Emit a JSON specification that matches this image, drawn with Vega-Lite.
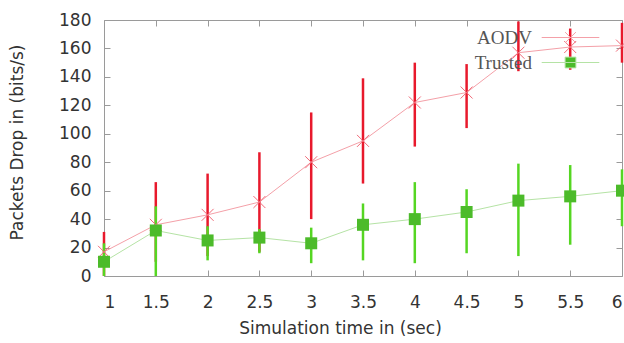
{
  "$schema": "https://vega.github.io/schema/vega-lite/v6.json",
  "width": 518,
  "height": 256,
  "autosize": "none",
  "padding": {"left": 104, "top": 20, "right": 2, "bottom": 67},
  "background": "white",
  "config": {
    "view": {"stroke": "#9a9a9a", "strokeWidth": 1},
    "axis": {
      "grid": false,
      "domain": false,
      "tickSize": -6,
      "tickColor": "#9a9a9a",
      "labelFont": "DejaVu Sans",
      "labelFontSize": 17,
      "labelColor": "#333333",
      "titleFont": "DejaVu Sans",
      "titleFontSize": 17,
      "titleFontWeight": "normal",
      "titleColor": "#333333"
    }
  },
  "data": {
    "values": [
      {"series": "AODV", "t": 1, "y": 17, "lo": 0, "hi": 31},
      {"series": "AODV", "t": 1.5, "y": 36, "lo": 10, "hi": 66},
      {"series": "AODV", "t": 2, "y": 43, "lo": 14, "hi": 72},
      {"series": "AODV", "t": 2.5, "y": 52, "lo": 17, "hi": 87},
      {"series": "AODV", "t": 3, "y": 80, "lo": 40, "hi": 115},
      {"series": "AODV", "t": 3.5, "y": 95, "lo": 65, "hi": 139},
      {"series": "AODV", "t": 4, "y": 122, "lo": 91, "hi": 150},
      {"series": "AODV", "t": 4.5, "y": 129, "lo": 104, "hi": 149},
      {"series": "AODV", "t": 5, "y": 157, "lo": 144, "hi": 179},
      {"series": "AODV", "t": 5.5, "y": 161, "lo": 145, "hi": 174},
      {"series": "AODV", "t": 6, "y": 162, "lo": 150, "hi": 178},
      {"series": "Trusted", "t": 1, "y": 10, "lo": 0, "hi": 23},
      {"series": "Trusted", "t": 1.5, "y": 32, "lo": 0, "hi": 49},
      {"series": "Trusted", "t": 2, "y": 25, "lo": 11, "hi": 35},
      {"series": "Trusted", "t": 2.5, "y": 27, "lo": 16, "hi": 33},
      {"series": "Trusted", "t": 3, "y": 23, "lo": 9, "hi": 34},
      {"series": "Trusted", "t": 3.5, "y": 36, "lo": 11, "hi": 51},
      {"series": "Trusted", "t": 4, "y": 40, "lo": 9, "hi": 66},
      {"series": "Trusted", "t": 4.5, "y": 45, "lo": 16, "hi": 61},
      {"series": "Trusted", "t": 5, "y": 53, "lo": 14, "hi": 79},
      {"series": "Trusted", "t": 5.5, "y": 56, "lo": 22, "hi": 78},
      {"series": "Trusted", "t": 6, "y": 60, "lo": 35, "hi": 75}
    ]
  },
  "resolve": {"axis": {"x": "independent", "y": "independent"}},
  "layer": [
    {
      "transform": [{"filter": "datum.series === 'AODV'"}],
      "mark": {"type": "rule", "color": "#e8192c", "strokeWidth": 2.5},
      "encoding": {
        "x": {
          "field": "t", "type": "quantitative",
          "scale": {"domain": [1, 6], "nice": false, "zero": false},
          "axis": {
            "orient": "bottom",
            "values": [1, 1.5, 2, 2.5, 3, 3.5, 4, 4.5, 5, 5.5, 6],
            "format": "~g",
            "labelPadding": 24,
            "title": "Simulation time in (sec)",
            "titlePadding": 10,
            "titleX": 236
          }
        },
        "y": {
          "field": "lo", "type": "quantitative",
          "scale": {"domain": [0, 180], "nice": false},
          "axis": {
            "orient": "left",
            "values": [0, 20, 40, 60, 80, 100, 120, 140, 160, 180],
            "labelPadding": 19,
            "title": "Packets Drop in (bits/s)",
            "titlePadding": 32,
            "titleY": 122
          }
        },
        "y2": {"field": "hi"}
      }
    },
    {
      "transform": [{"filter": "datum.series === 'Trusted'"}],
      "mark": {"type": "rule", "color": "#55d622", "strokeWidth": 2.5},
      "encoding": {
        "x": {
          "field": "t", "type": "quantitative",
          "axis": {
            "orient": "top",
            "values": [1, 1.5, 2, 2.5, 3, 3.5, 4, 4.5, 5, 5.5, 6],
            "labels": false,
            "title": null
          }
        },
        "y": {
          "field": "lo", "type": "quantitative",
          "axis": {
            "orient": "right",
            "values": [0, 20, 40, 60, 80, 100, 120, 140, 160, 180],
            "labels": false,
            "title": null
          }
        },
        "y2": {"field": "hi"}
      }
    },
    {
      "mark": {"type": "line", "strokeWidth": 1},
      "encoding": {
        "x": {"field": "t", "type": "quantitative", "axis": null},
        "y": {"field": "y", "type": "quantitative", "axis": null},
        "color": {
          "field": "series", "type": "nominal",
          "scale": {"domain": ["AODV", "Trusted"], "range": ["#f4a0a8", "#b5e3a5"]},
          "legend": {
            "orient": "none",
            "legendX": 457,
            "legendY": 8,
            "title": null,
            "padding": 0,
            "labelAlign": "right",
            "labelBaseline": "middle",
            "labelOffset": -48,
            "labelFont": "Liberation Serif",
            "labelFontSize": 19,
            "labelColor": "#555555",
            "symbolSize": 144,
            "rowPadding": 5,
            "encode": {
              "symbols": {
                "update": {
                  "shape": {"signal": "datum.value === 'AODV' ? 'M-4.8,0L4.8,0M-0.9,-0.9L0.9,0.9M-0.9,0.9L0.9,-0.9' : 'M-4.8,0L4.8,0M-0.9,-0.9L0.9,-0.9L0.9,0.9L-0.9,0.9Z'"},
                  "fill": {"signal": "datum.value === 'AODV' ? 'transparent' : '#4cbb2a'"},
                  "stroke": {"signal": "datum.value === 'AODV' ? '#f06a78' : '#8fd47a'"},
                  "strokeWidth": {"value": 1},
                  "opacity": {"value": 1}
                }
              }
            }
          }
        }
      }
    },
    {
      "transform": [{"filter": "datum.series === 'AODV'"}],
      "mark": {"type": "point", "shape": "M-1,-1L1,1M-1,1L1,-1", "size": 144, "stroke": "#f06a78", "filled": false, "strokeWidth": 1, "opacity": 1},
      "encoding": {
        "x": {"field": "t", "type": "quantitative", "axis": null},
        "y": {"field": "y", "type": "quantitative", "axis": null}
      }
    },
    {
      "transform": [{"filter": "datum.series === 'Trusted'"}],
      "mark": {"type": "square", "size": 144, "color": "#4cbb2a", "opacity": 1},
      "encoding": {
        "x": {"field": "t", "type": "quantitative", "axis": null},
        "y": {"field": "y", "type": "quantitative", "axis": null}
      }
    }
  ]
}
